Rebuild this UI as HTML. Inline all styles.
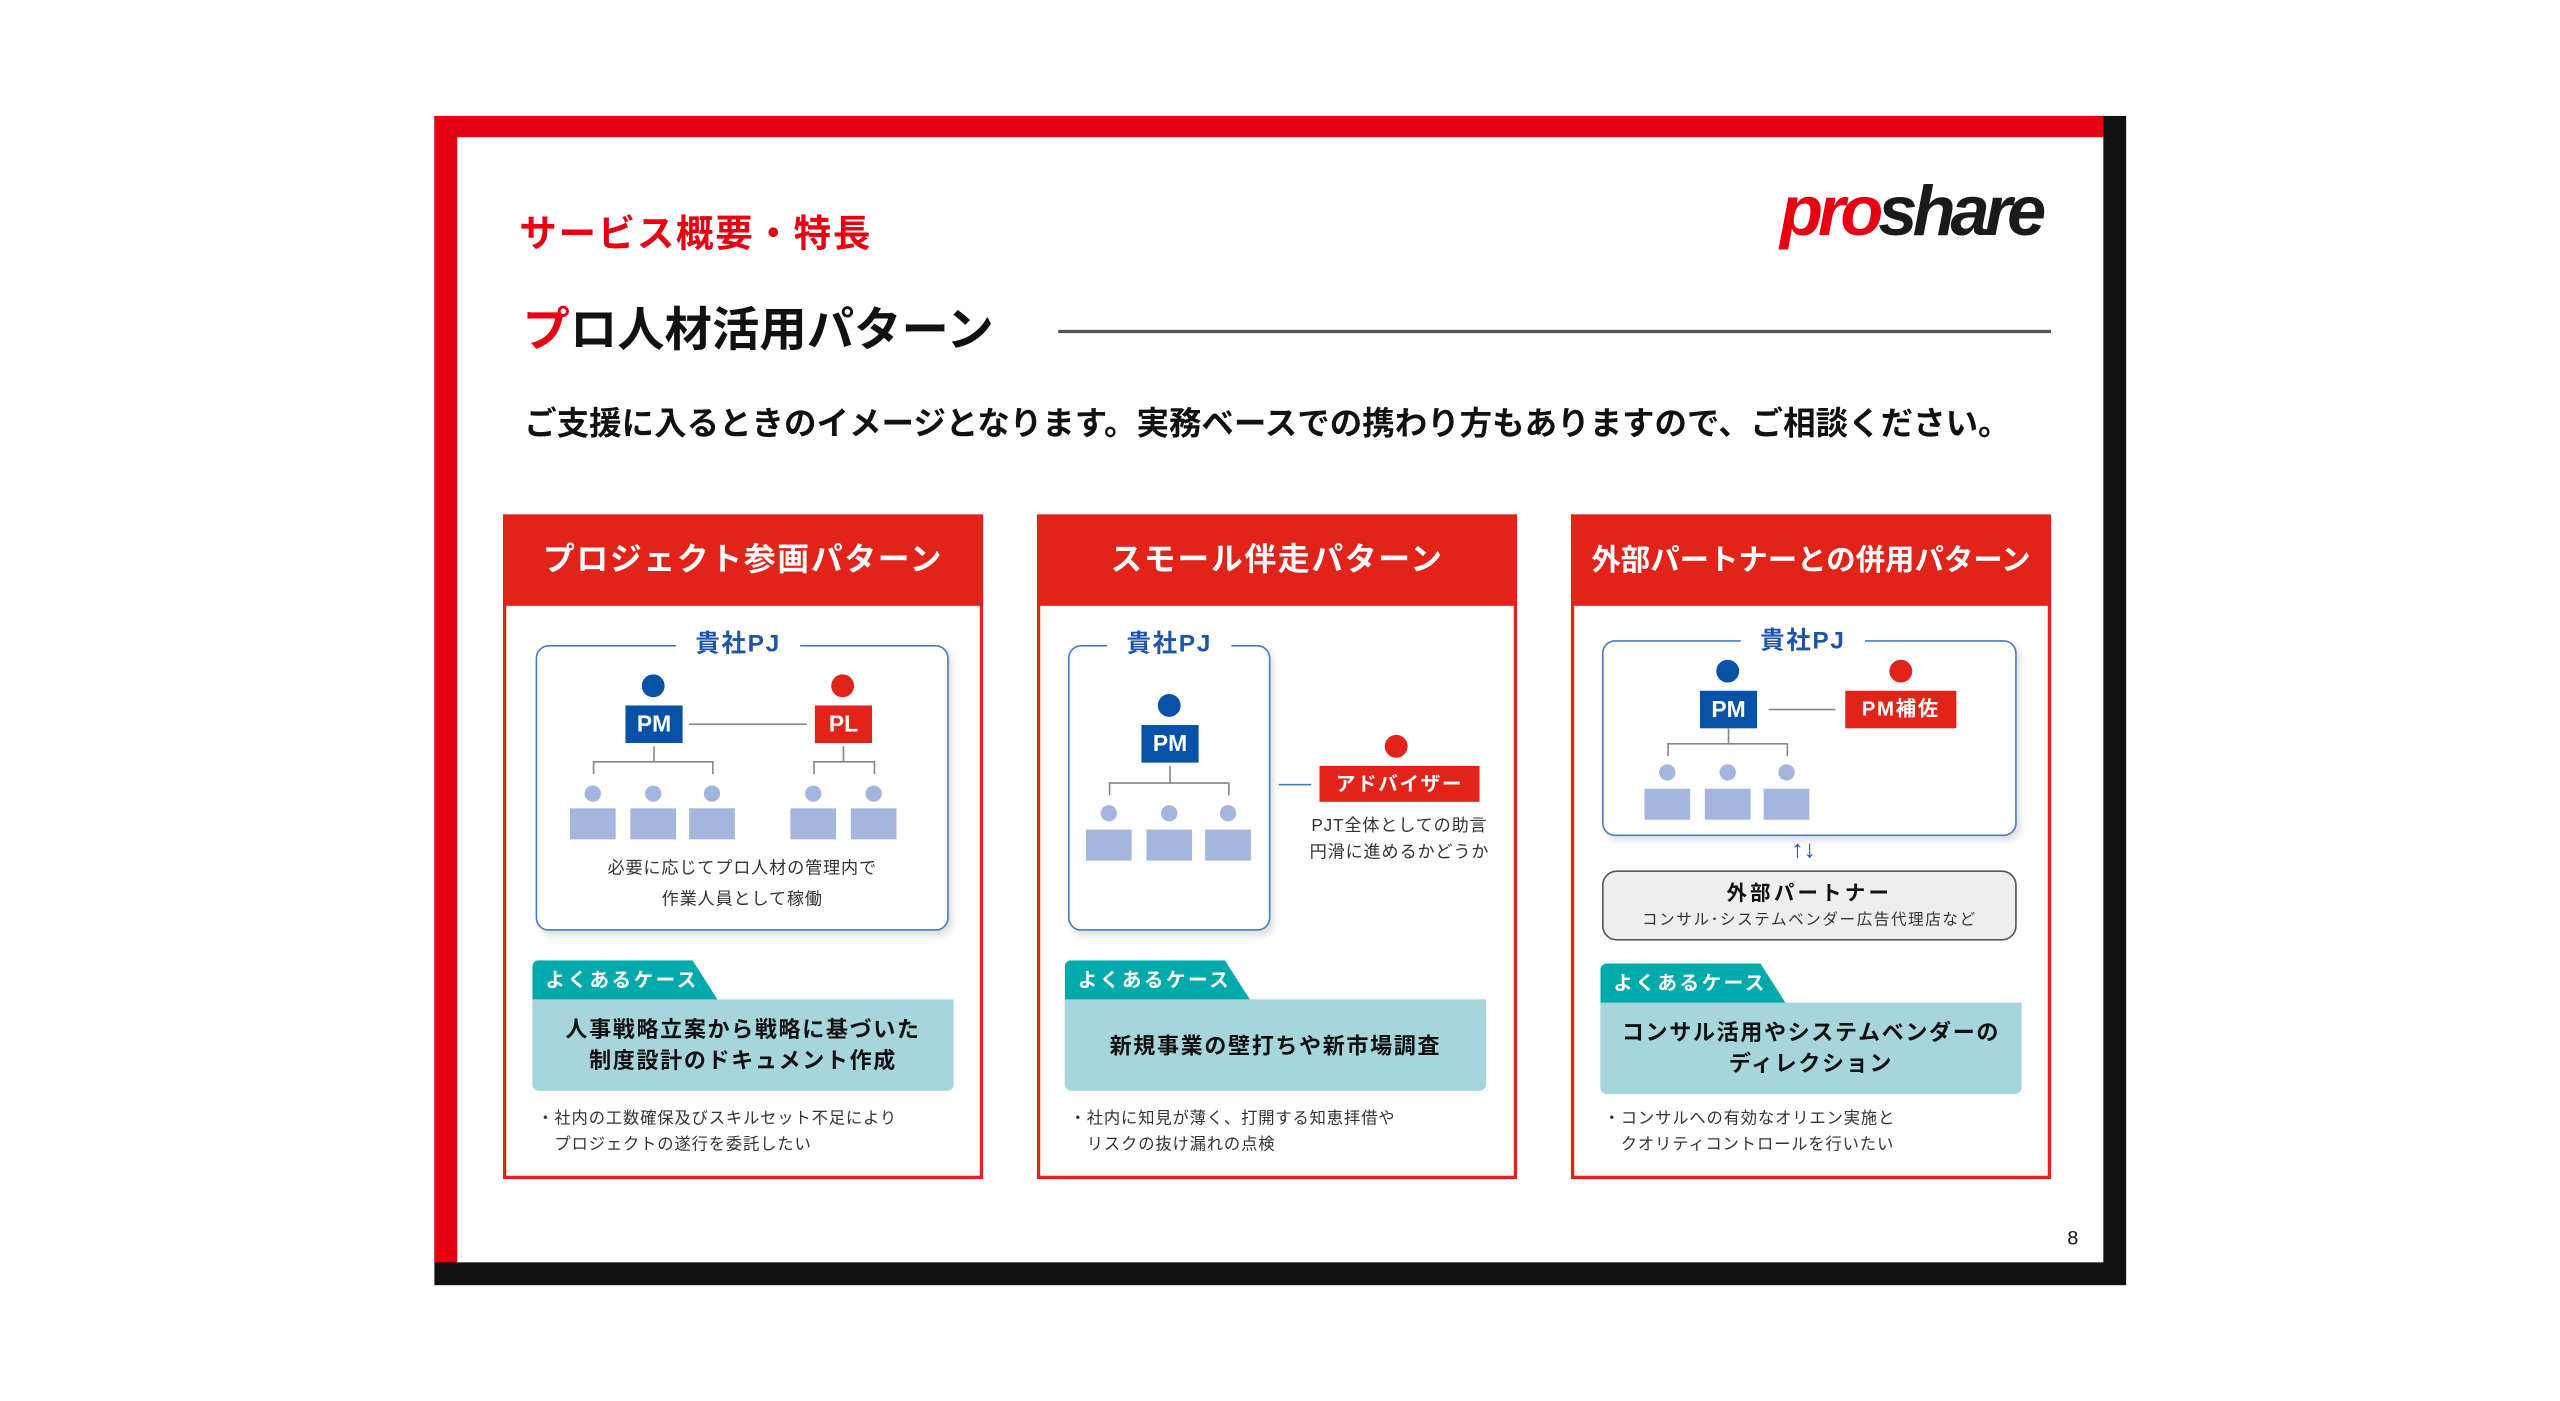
<!DOCTYPE html>
<html><head><meta charset="utf-8"><style>
*{margin:0;padding:0;box-sizing:border-box}
html,body{width:2560px;height:1401px;overflow:hidden;background:#fff}
#s{position:absolute;left:0;top:0;width:1568px;height:858px;transform:scale(1.633);transform-origin:0 0;font-family:"Liberation Sans","Noto Sans CJK JP",sans-serif}
.a{position:absolute}
.t{position:absolute;white-space:nowrap;font-weight:bold}
.card{position:absolute;top:315px;width:294px;height:407px;border:2px solid #e2231a;background:#fff}
.hd{position:absolute;left:-2px;top:-2px;width:294px;height:56px;background:#e2231a;color:#fff;font-size:19.5px;font-weight:bold;text-align:center;line-height:56px;letter-spacing:1px;white-space:nowrap}
.pj{position:absolute;border:1.5px solid #4a7cc0;border-radius:8px;background:#fff;box-shadow:2px 3px 4px rgba(0,0,0,.12)}
.pjl{position:absolute;background:#fff;color:#1d56a8;font-weight:bold;font-size:15px;text-align:center;line-height:18px;width:76px;letter-spacing:1px}
.hc{position:absolute;width:14px;height:14px;border-radius:50%}
.bx{position:absolute;color:#fff;font-weight:bold;font-size:14px;text-align:center;line-height:23px;height:23px}
.sc{position:absolute;width:10px;height:10px;border-radius:50%;background:#a4b6de}
.sb{position:absolute;width:28px;height:19px;background:#a4b6de}
.ln{position:absolute;background:#888}
.tab{position:absolute;width:114px;height:25px;background:#00aaab;clip-path:polygon(0 0,86% 0,100% 100%,0 100%);color:#fff;font-size:12px;font-weight:bold;line-height:25px;padding-left:8px;letter-spacing:1.5px;border-radius:4px 0 0 0}
.cb{position:absolute;width:258px;height:56px;background:#a6d5dc;border-radius:0 0 4px 4px;color:#111;font-size:13.5px;font-weight:bold;text-align:center;display:flex;align-items:center;justify-content:center;line-height:19px;letter-spacing:1px}
.bl{position:absolute;font-size:10px;color:#333;line-height:16px;white-space:nowrap;letter-spacing:.5px}
</style></head><body><div id="s">
<div class="a" style="left:266px;top:71px;width:1036px;height:716px;background:#111"></div>
<div class="a" style="left:266px;top:71px;width:1022px;height:702px;background:#e60012"></div>
<div class="a" style="left:280px;top:84px;width:1008px;height:689px;background:#fff"></div>

<div class="t" style="left:318px;top:124px;font-size:23px;color:#e60012;letter-spacing:1px">サービス概要・特長</div>
<div class="t" style="left:1090px;top:106px;font-size:43px;font-style:italic;letter-spacing:-3px;line-height:48px"><span style="color:#e60012">pro</span><span style="color:#1a1a1a">share</span></div>
<div class="t" style="left:320px;top:186px;font-size:29px;color:#111;line-height:34px"><span style="color:#e60012">プ</span>ロ人材活用パターン</div>
<div class="a" style="left:648px;top:202px;width:608px;height:1.5px;background:#555"></div>
<div class="t" style="left:321px;top:248px;font-size:19.9px;color:#111;line-height:24px">ご支援に入るときのイメージとなります。実務ベースでの携わり方もありますので、ご相談ください。</div>

<div class="card" style="left:308px"><div class="hd">プロジェクト参画パターン</div></div>
<div class="pj" style="left:328px;top:395px;width:253px;height:175px"></div>
<div class="pjl" style="left:414px;top:386px">貴社PJ</div>
<div class="hc" style="left:393px;top:413px;background:#0752a6"></div>
<div class="bx" style="left:383px;top:432px;width:35px;background:#0752a6">PM</div>
<div class="hc" style="left:509px;top:413px;background:#e2231a"></div>
<div class="bx" style="left:499px;top:432px;width:35px;background:#e2231a">PL</div>
<div class="ln" style="left:422px;top:443px;width:72px;height:1px"></div>
<div class="ln" style="left:400px;top:457px;width:1px;height:10px"></div>
<div class="ln" style="left:363px;top:466px;width:73px;height:1px"></div>
<div class="ln" style="left:363px;top:466px;width:1px;height:8px"></div>
<div class="ln" style="left:436px;top:466px;width:1px;height:8px"></div>
<div class="ln" style="left:516px;top:457px;width:1px;height:10px"></div>
<div class="ln" style="left:498px;top:466px;width:37px;height:1px"></div>
<div class="ln" style="left:498px;top:466px;width:1px;height:8px"></div>
<div class="ln" style="left:535px;top:466px;width:1px;height:8px"></div>
<div class="sc" style="left:358px;top:481px"></div><div class="sb" style="left:349px;top:495px"></div>
<div class="sc" style="left:395px;top:481px"></div><div class="sb" style="left:386px;top:495px"></div>
<div class="sc" style="left:431px;top:481px"></div><div class="sb" style="left:422px;top:495px"></div>
<div class="sc" style="left:493px;top:481px"></div><div class="sb" style="left:484px;top:495px"></div>
<div class="sc" style="left:530px;top:481px"></div><div class="sb" style="left:521px;top:495px"></div>
<div class="bl" style="left:328px;width:253px;text-align:center;top:523px;font-size:10.5px;line-height:19px">必要に応じてプロ人材の管理内で<br>作業人員として稼働</div>
<div class="tab" style="left:326px;top:588px">よくあるケース</div>
<div class="cb" style="left:326px;top:612px">人事戦略立案から戦略に基づいた<br>制度設計のドキュメント作成</div>
<div class="bl" style="left:329px;top:678px">・社内の工数確保及びスキルセット不足により<br>　プロジェクトの遂行を委託したい</div>

<div class="card" style="left:635px"><div class="hd">スモール伴走パターン</div></div>
<div class="pj" style="left:654px;top:395px;width:124px;height:175px"></div>
<div class="pjl" style="left:678px;top:386px">貴社PJ</div>
<div class="hc" style="left:709px;top:425px;background:#0752a6"></div>
<div class="bx" style="left:699px;top:444px;width:35px;background:#0752a6">PM</div>
<div class="ln" style="left:716px;top:469px;width:1px;height:11px"></div>
<div class="ln" style="left:679px;top:479px;width:73px;height:1px"></div>
<div class="ln" style="left:679px;top:479px;width:1px;height:8px"></div>
<div class="ln" style="left:752px;top:479px;width:1px;height:8px"></div>
<div class="sc" style="left:674px;top:493px"></div><div class="sb" style="left:665px;top:508px"></div>
<div class="sc" style="left:711px;top:493px"></div><div class="sb" style="left:702px;top:508px"></div>
<div class="sc" style="left:747px;top:493px"></div><div class="sb" style="left:738px;top:508px"></div>
<div class="a" style="left:783px;top:480px;width:20px;height:1px;background:#4a7cc0"></div>
<div class="hc" style="left:848px;top:450px;background:#e2231a"></div>
<div class="bx" style="left:808px;top:469px;width:98px;height:22px;line-height:22px;font-size:12px;letter-spacing:1px;background:#e2231a">アドバイザー</div>
<div class="bl" style="left:800px;width:114px;text-align:center;top:498px;font-size:10.5px">PJT全体としての助言<br>円滑に進めるかどうか</div>
<div class="tab" style="left:652px;top:588px">よくあるケース</div>
<div class="cb" style="left:652px;top:612px">新規事業の壁打ちや新市場調査</div>
<div class="bl" style="left:655px;top:678px">・社内に知見が薄く、打開する知恵拝借や<br>　リスクの抜け漏れの点検</div>

<div class="card" style="left:962px"><div class="hd" style="font-size:18px;letter-spacing:0">外部パートナーとの併用パターン</div></div>
<div class="pj" style="left:981px;top:392px;width:254px;height:120px"></div>
<div class="pjl" style="left:1066px;top:384px">貴社PJ</div>
<div class="hc" style="left:1051px;top:404px;background:#0752a6"></div>
<div class="bx" style="left:1041px;top:423px;width:35px;background:#0752a6">PM</div>
<div class="ln" style="left:1083px;top:434px;width:41px;height:1px"></div>
<div class="hc" style="left:1157px;top:404px;background:#e2231a"></div>
<div class="bx" style="left:1130px;top:423px;width:68px;font-size:12.5px;letter-spacing:1px;background:#e2231a">PM補佐</div>
<div class="ln" style="left:1058px;top:446px;width:1px;height:10px"></div>
<div class="ln" style="left:1021px;top:455px;width:73px;height:1px"></div>
<div class="ln" style="left:1021px;top:455px;width:1px;height:8px"></div>
<div class="ln" style="left:1094px;top:455px;width:1px;height:8px"></div>
<div class="sc" style="left:1016px;top:468px"></div><div class="sb" style="left:1007px;top:483px"></div>
<div class="sc" style="left:1053px;top:468px"></div><div class="sb" style="left:1044px;top:483px"></div>
<div class="sc" style="left:1089px;top:468px"></div><div class="sb" style="left:1080px;top:483px"></div>
<div class="t" style="left:1097px;top:512px;font-size:15px;color:#1d56a8;line-height:18px">↑↓</div>
<div class="a" style="left:981px;top:533px;width:254px;height:43px;background:#eeeeee;border:1.5px solid #555;border-radius:9px"></div>
<div class="t" style="left:981px;width:254px;text-align:center;top:539px;font-size:12.5px;color:#111;letter-spacing:2px;line-height:16px">外部パートナー</div>
<div class="bl" style="left:981px;width:254px;text-align:center;top:556px;font-size:9.5px;letter-spacing:1px">コンサル･システムベンダー広告代理店など</div>
<div class="tab" style="left:980px;top:590px">よくあるケース</div>
<div class="cb" style="left:980px;top:614px">コンサル活用やシステムベンダーの<br>ディレクション</div>
<div class="bl" style="left:982px;top:678px">・コンサルへの有効なオリエン実施と<br>　クオリティコントロールを行いたい</div>

<div class="a" style="left:1266px;top:751px;font-size:12px;color:#111">8</div>
</div></body></html>
